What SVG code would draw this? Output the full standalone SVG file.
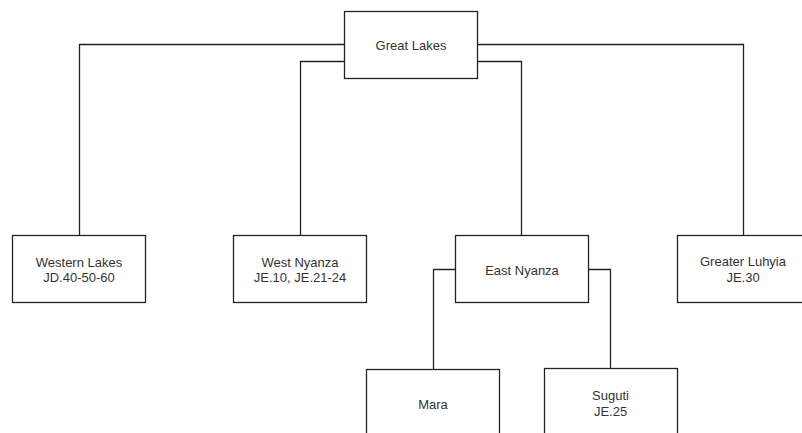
<svg xmlns="http://www.w3.org/2000/svg" width="802" height="433" viewBox="0 0 802 433">
<style>
.box{fill:#fff;stroke:#222;stroke-width:1.3}
.lbl{font-family:"Liberation Sans",Arial,sans-serif;font-size:13px;fill:#333;text-anchor:middle}
.con{fill:none;stroke:#222;stroke-width:1.3}
</style>
<rect width="802" height="433" fill="#fff"/>
<g id="connectors">
<path class="con" d="M344.5 44.5 H79.5 V235.5"/>
<path class="con" d="M344.5 61.5 H300.5 V235.5"/>
<path class="con" d="M477.5 44.5 H743.5 V235.5"/>
<path class="con" d="M477.5 61.5 H521.5 V235.5"/>
<path class="con" d="M455.5 269.5 H433.5 V369.5"/>
<path class="con" d="M588.5 269.5 H610.5 V368.5"/>
</g>
<g id="great-lakes">
<rect class="box" x="344.5" y="11.5" width="133" height="67"/>
<text class="lbl" x="411" y="50">Great Lakes</text>
</g>
<g id="western-lakes">
<rect class="box" x="12.5" y="235.5" width="133" height="67"/>
<text class="lbl" x="79" y="266.5">Western Lakes</text>
<text class="lbl" x="79" y="282">JD.40-50-60</text>
</g>
<g id="west-nyanza">
<rect class="box" x="233.5" y="235.5" width="133" height="67"/>
<text class="lbl" x="300" y="266.5">West Nyanza</text>
<text class="lbl" x="300" y="282">JE.10, JE.21-24</text>
</g>
<g id="east-nyanza">
<rect class="box" x="455.5" y="235.5" width="133" height="67"/>
<text class="lbl" x="522" y="274.5">East Nyanza</text>
</g>
<g id="greater-luhyia">
<rect class="box" x="677.5" y="235.5" width="133" height="67"/>
<text class="lbl" x="743" y="266">Greater Luhyia</text>
<text class="lbl" x="743" y="281.5">JE.30</text>
</g>
<g id="mara">
<rect class="box" x="366.5" y="369.5" width="133" height="67"/>
<text class="lbl" x="433" y="409">Mara</text>
</g>
<g id="suguti">
<rect class="box" x="544.5" y="368.5" width="133" height="67"/>
<text class="lbl" x="610.5" y="400">Suguti</text>
<text class="lbl" x="610.5" y="415.5">JE.25</text>
</g>
</svg>
